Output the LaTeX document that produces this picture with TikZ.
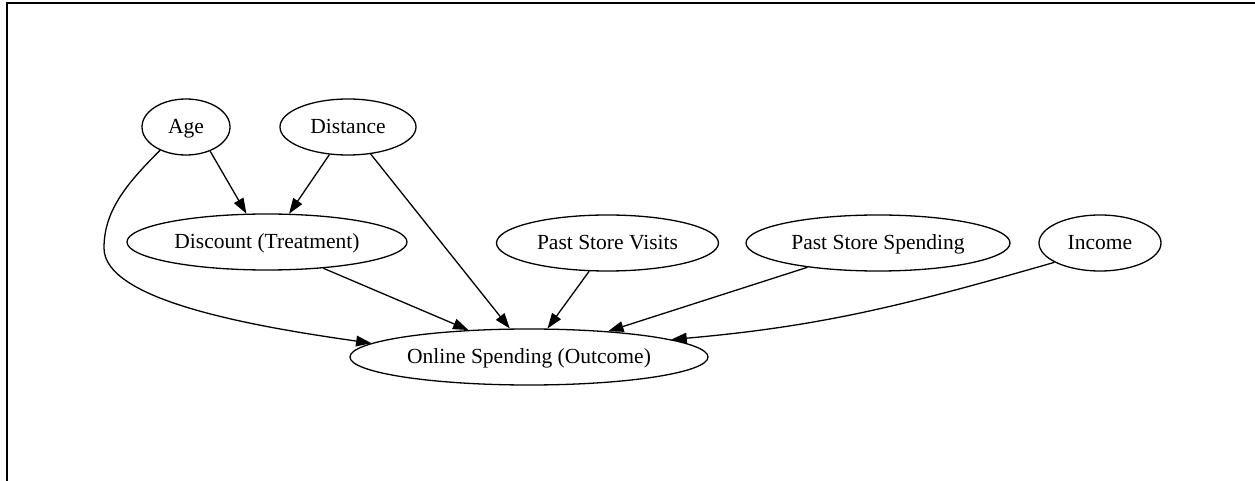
\documentclass[tikz,border=0pt]{standalone}
\usepackage{fontspec}
\setmainfont{Liberation Serif}
\usetikzlibrary{shapes.geometric,arrows.meta}
\tikzset{
  vnode/.style={ellipse, draw, line width=1.3bp, inner sep=0pt, minimum height=56bp,
    font=\fontsize{21.6pt}{26pt}\selectfont},
  edge/.style={line width=1.3bp, -{Triangle[length=15.4bp,width=10.7bp]}},
  frame/.style={line width=2.3bp}
}
\newcommand{\lbl}[1]{\makebox[0pt]{\rule[-7bp]{0pt}{27bp}#1}}
\begin{document}
\begin{tikzpicture}[x=1bp,y=-1bp]
\useasboundingbox (0,0) rectangle (1255,481);
\draw[frame] (7,485) -- (7,3) -- (1260,3);

\node[vnode, minimum width=88bp]  (age)    at (186,127) {\lbl{Age}};
\node[vnode, minimum width=136bp] (dist)   at (348,127) {\lbl{Distance}};
\node[vnode, minimum width=280bp] (disc)   at (267,242) {\lbl{Discount (Treatment)}};
\node[vnode, minimum width=222bp] (psv)    at (607.5,243) {\lbl{Past Store Visits}};
\node[vnode, minimum width=264bp] (pss)    at (878,243) {\lbl{Past Store Spending}};
\node[vnode, minimum width=122bp] (income) at (1100,243) {\lbl{Income}};
\node[vnode, minimum width=358bp] (online) at (529,357) {\lbl{Online Spending (Outcome)}};

\coordinate (agebend) at (104,248);

\draw[edge] (age.-45) -- (disc.126);
\draw[edge] (dist.-124) -- (disc.52);
\draw[edge] (age.-138) .. controls (125,185) and (104,212) .. (agebend)
            .. controls (104,300) and (250,326) .. (online.175);
\draw[edge] (dist.-50) -- (online.124);
\draw[edge] (disc.-25) -- (online.156);
\draw[edge] (psv.-123) -- (online.57);
\draw[edge] (pss.-161) -- (online.18);
\draw[edge] (income.-157) to[out=196,in=5] (online.7);
\end{tikzpicture}
\end{document}
